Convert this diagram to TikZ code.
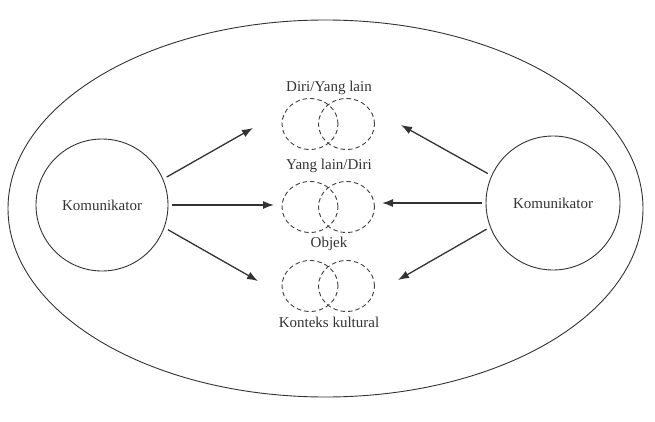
\documentclass[tikz,border=0pt]{standalone}
\usepackage{fontspec}
\setmainfont{Liberation Serif}
\usetikzlibrary{arrows.meta,shapes.geometric}
\tikzset{
	komunikator/.style={draw=black!80, circle, line width=0.9pt, minimum size=132pt, inner sep=0pt},
	irisan/.style={draw=black!75, ellipse, dash pattern=on 4.5pt off 3pt, line width=0.9pt, minimum width=56pt, minimum height=51pt, inner sep=0pt},
	panah/.style={-{Latex[length=11pt,width=8pt]}, line width=1.3pt, draw=black!80, shorten <=4pt},
	teks/.style={text=black!80, font=\fontsize{15}{18}\selectfont}
}
\begin{document}
\begin{tikzpicture}[x=1pt, y=-1pt, line join=round]
		\useasboundingbox (0,0) rectangle (655,422);
		\node[ellipse, draw=black!80, line width=0.9pt, minimum width=635pt, minimum height=377pt, inner sep=0pt] (latar) at (325.5,208.5) {};
		\node[komunikator, teks] (kiri) at (102,205) {Komunikator};
		\node[komunikator, teks, minimum size=134pt] (kanan) at (553,203) {Komunikator};
		% pasangan lingkaran
		\foreach \y/\n in {124/a,207/b,286/c}{
			\node[irisan] (\n1) at (310,\y) {};
			\node[irisan] (\n2) at (346.5,\y) {};
		}
		\node[teks] (diri) at (329,88) {Diri/Yang lain};
		\node[teks] (lain) at (329,166) {Yang lain/Diri};
		\node[teks] (objek) at (329,244) {Objek};
		\node[teks] (konteks) at (329,322) {Konteks kultural};
		% ujung panah
		\coordinate (ka) at (253,128);
		\coordinate (kb) at (274,205);
		\coordinate (kc) at (258,281);
		\coordinate (na) at (401,125);
		\coordinate (nb) at (382,203);
		\coordinate (nc) at (398,280);
		\draw[panah] (kiri.23.6) -- (ka);
		\draw[panah] (kiri.0) -- (kb);
		\draw[panah] (kiri.-20) -- (kc);
		\draw[panah] (kanan.156.8) -- (na);
		\draw[panah] (kanan.180) -- (nb);
		\draw[panah] (kanan.-159.3) -- (nc);
\end{tikzpicture}
\end{document}
